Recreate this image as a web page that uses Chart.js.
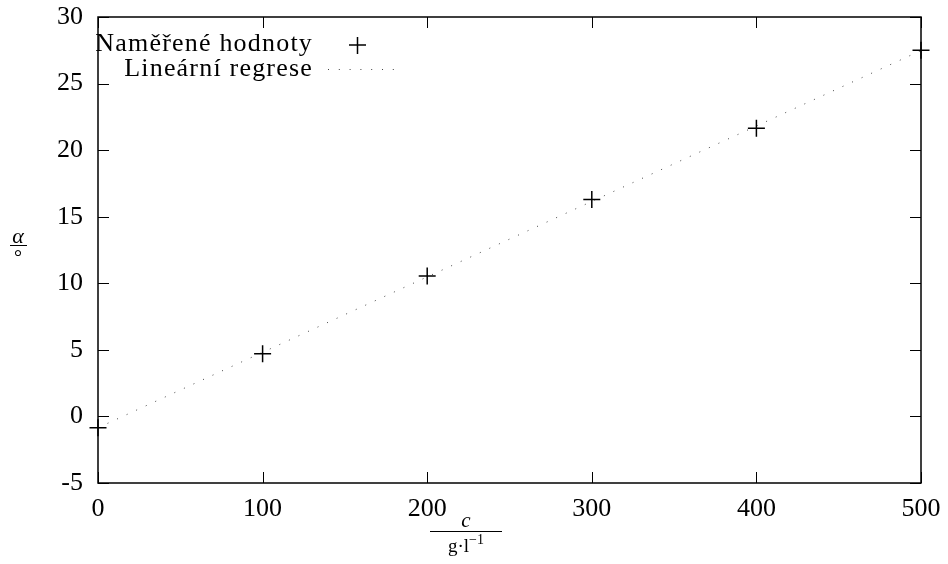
<!DOCTYPE html>
<html>
<head>
<meta charset="utf-8">
<script src="https://cdn.jsdelivr.net/npm/chart.js@4"></script>
<style>
	body { margin: 0; background: #fff; }
	canvas { display: block; }
</style>
</head>
<body>
<canvas id="myChart" width="948" height="564"></canvas>
<script>
	// naměřené hodnoty
	var concentrations = [0, 100, 200, 300, 400, 500];
	var angles = [-0.85, 4.7, 10.55, 16.3, 21.65, 27.5];
	// lineární regrese (krajní body přímky)
	var fitX = [0, 500];
	var fitY = [-0.85, 27.48];
	var seriesLabels = ["Naměřené hodnoty", "Lineární regrese"];

	var serif = "'Liberation Serif', 'Times New Roman', serif";

	function $each(arr, fn) {
		for (var i = 0; i < arr.length; i++) fn(i, arr[i]);
	}

	var measured = [];
	$each(concentrations, function(i, c) { measured.push({ x: c, y: angles[i] }); });
	var regression = [];
	$each(fitX, function(i, c) { regression.push({ x: c, y: fitY[i] }); });

	// rámeček, vnitřní ticky, legenda a popisky os
	var gnuplotLook = {
		id: 'gnuplotLook',
		afterDraw: function(chart) {
			var ctx = chart.ctx;
			var a = chart.chartArea;
			var xs = chart.scales.x;
			var ys = chart.scales.y;
			ctx.save();

			// ticky dovnitř
			ctx.strokeStyle = '#000';
			ctx.lineWidth = 1;
			ctx.beginPath();
			ys.ticks.forEach(function(t) {
				var py = Math.round(ys.getPixelForValue(t.value)) + 0.5;
				ctx.moveTo(a.left, py); ctx.lineTo(a.left + 11, py);
				ctx.moveTo(a.right, py); ctx.lineTo(a.right - 11, py);
			});
			xs.ticks.forEach(function(t) {
				var px = Math.round(xs.getPixelForValue(t.value)) + 0.5;
				ctx.moveTo(px, a.bottom); ctx.lineTo(px, a.bottom - 11);
				ctx.moveTo(px, a.top); ctx.lineTo(px, a.top + 11);
			});
			ctx.stroke();

			// rámeček
			ctx.lineWidth = 1.5;
			ctx.strokeRect(a.left, a.top, a.right - a.left, a.bottom - a.top);

			// legenda
			ctx.fillStyle = '#000';
			ctx.font = '26px ' + serif;
			ctx.letterSpacing = '1.2px';
			ctx.textAlign = 'right';
			ctx.textBaseline = 'middle';
			var ds = chart.data.datasets;
			ctx.fillText(ds[0].label, 313, 44);
			ctx.fillText(ds[1].label, 313, 69);
			ctx.letterSpacing = '0px';
			ctx.lineWidth = 1.5;
			ctx.beginPath();
			ctx.moveTo(349, 45); ctx.lineTo(366, 45);
			ctx.moveTo(357.5, 37); ctx.lineTo(357.5, 54);
			ctx.stroke();
			ctx.strokeStyle = '#444';
			ctx.lineWidth = 1;
			ctx.setLineDash([1, 9.8]);
			ctx.beginPath();
			ctx.moveTo(328, 69.5); ctx.lineTo(396, 69.5);
			ctx.stroke();
			ctx.setLineDash([]);

			// popisek osy y: alfa / stupeň
			ctx.strokeStyle = '#000';
			ctx.textAlign = 'center';
			ctx.font = 'italic 22px ' + serif;
			ctx.fillText('α', 18, 237);
			ctx.lineWidth = 1;
			ctx.beginPath();
			ctx.moveTo(10, 245.5); ctx.lineTo(27, 245.5);
			ctx.stroke();
			ctx.font = '20px ' + serif;
			ctx.fillText('°', 18, 259);

			// popisek osy x: c / g·l^-1
			var cx = 466;
			ctx.font = 'italic 21px ' + serif;
			ctx.fillText('c', cx, 521);
			ctx.beginPath();
			ctx.moveTo(cx - 36, 531.5); ctx.lineTo(cx + 36, 531.5);
			ctx.stroke();
			ctx.font = '19px ' + serif;
			ctx.textAlign = 'left';
			var base = 'g·l';
			var sup = '−1';
			var wBase = ctx.measureText(base).width;
			ctx.font = '14px ' + serif;
			var wSup = ctx.measureText(sup).width;
			var sx = cx - (wBase + wSup) / 2;
			ctx.font = '19px ' + serif;
			ctx.fillText(base, sx, 547);
			ctx.font = '14px ' + serif;
			ctx.fillText(sup, sx + wBase, 540);

			ctx.restore();
		}
	};

	var ctx = document.getElementById('myChart').getContext('2d');

	window.chart_main = new Chart(ctx, {
		type: 'scatter',
		data: {
			datasets: [{
				label: seriesLabels[0],
				data: measured,
				pointStyle: 'cross',
				pointRadius: 8.5,
				pointHoverRadius: 8.5,
				pointBorderWidth: 1.5,
				borderColor: '#000',
				backgroundColor: '#000',
				showLine: false,
				clip: false,
				order: 1
			}, {
				label: seriesLabels[1],
				data: regression,
				showLine: true,
				pointRadius: 0,
				borderColor: '#444',
				borderWidth: 1,
				borderDash: [1, 9.5],
				clip: false,
				order: 2
			}]
		},
		options: {
			responsive: false,
			animation: false,
			layout: {
				padding: { top: 17, right: 27, left: 0, bottom: 0 }
			},
			plugins: {
				legend: { display: false },
				tooltip: { enabled: false }
			},
			scales: {
				x: {
					type: 'linear',
					min: 0,
					max: 500,
					grid: { display: false, drawTicks: false },
					border: { display: false },
					ticks: {
						stepSize: 100,
						padding: 11,
						color: '#000',
						font: { family: serif, size: 26 }
					},
					afterFit: function(scale) {
						scale.height = 81;
						scale.paddingLeft = 0;
						scale.paddingRight = 0;
					}
				},
				y: {
					min: -5,
					max: 30,
					grid: { display: false, drawTicks: false },
					border: { display: false },
					ticks: {
						stepSize: 5,
						padding: 15,
						color: '#000',
						font: { family: serif, size: 26 }
					},
					afterFit: function(scale) {
						scale.width = 98;
						scale.paddingTop = 0;
						scale.paddingBottom = 0;
					}
				}
			}
		},
		plugins: [gnuplotLook]
	});
</script>
</body>
</html>
